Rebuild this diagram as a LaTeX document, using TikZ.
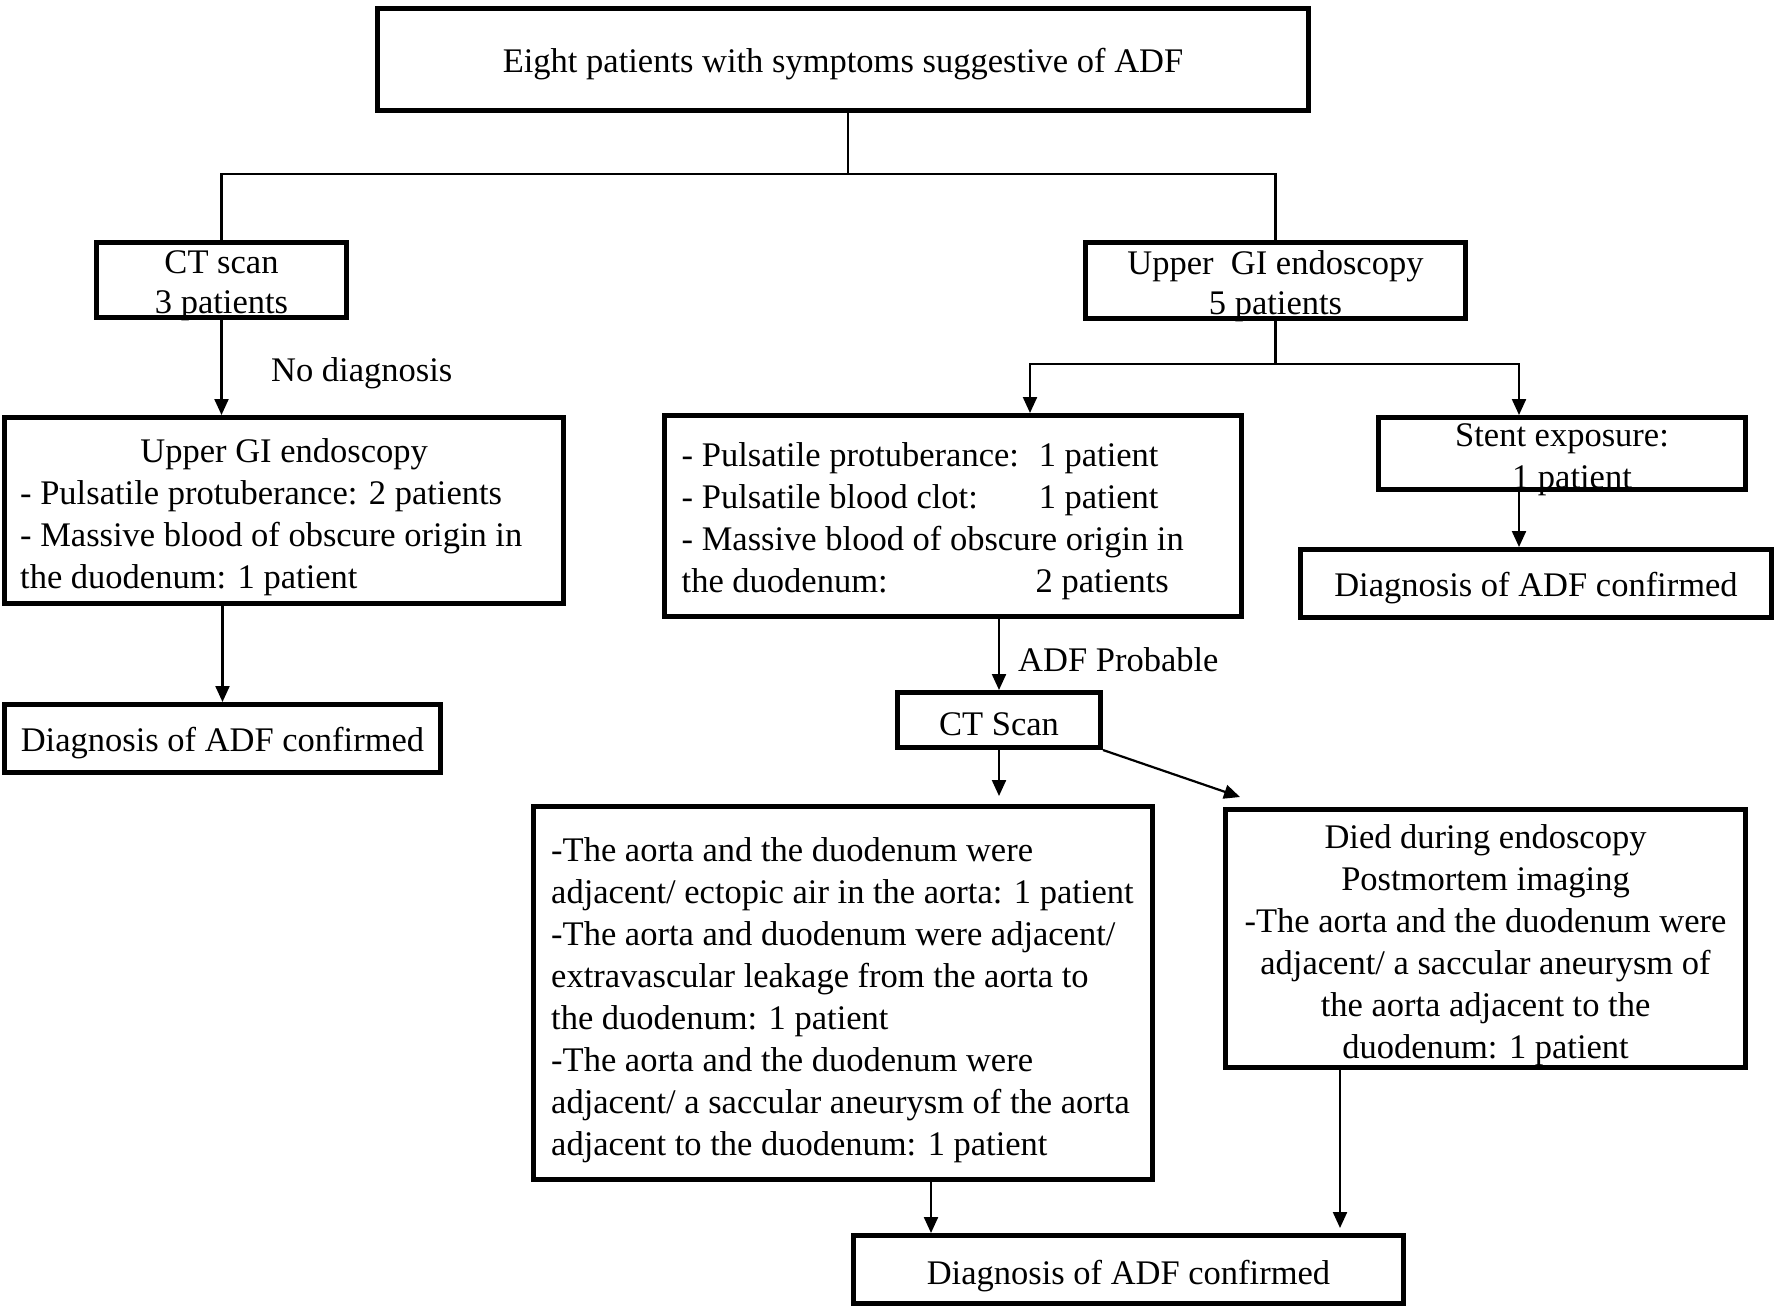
\documentclass[tikz,border=0pt]{standalone}
\usepackage{fontspec}
\setmainfont{Liberation Serif}
\usetikzlibrary{arrows.meta,calc}
\begin{document}
\begin{tikzpicture}[x=1pt,y=-1pt,
 box/.style={draw, line width=5pt, inner sep=0pt},
 txt/.style={inner sep=0pt, yshift=-4.5pt, font=\fontsize{34.5}{42}\selectfont},
 conn/.style={line width=2.2pt},
 arr/.style={conn, -{Triangle[length=16pt,width=14pt]}}]
\useasboundingbox (0,0) rectangle (1784,1310);
% boxes
\node[box, minimum width=931pt, minimum height=102pt] (top) at (843,59.5) {};
\node[box, minimum width=250pt, minimum height=75pt] (ct1) at (221.5,280) {};
\node[box, minimum width=380pt, minimum height=76pt] (ugi) at (1275.5,280.5) {};
\node[box, minimum width=559pt, minimum height=186pt] (lugi) at (284,510.5) {};
\node[box, minimum width=436pt, minimum height=68pt] (ldiag) at (222.5,738.5) {};
\node[box, minimum width=577pt, minimum height=201pt] (mid) at (953,516) {};
\node[box, minimum width=367pt, minimum height=72pt] (stent) at (1562,453.5) {};
\node[box, minimum width=471pt, minimum height=68pt] (rdiag) at (1536,583.5) {};
\node[box, minimum width=203pt, minimum height=55pt] (ct2) at (999,720) {};
\node[box, minimum width=619pt, minimum height=373pt] (big) at (843,993) {};
\node[box, minimum width=520pt, minimum height=258pt] (died) at (1485.5,938.5) {};
\node[box, minimum width=550pt, minimum height=68pt] (bdiag) at (1128.5,1269.5) {};
% texts
\node[txt] (ttop) at (top.center) {Eight patients with symptoms suggestive of ADF};
\node[txt, align=center, font=\fontsize{34.5}{40}\selectfont] (tct1) at ($(ct1.center)+(0,1)$) {CT scan\\3 patients};
\node[txt, align=center, font=\fontsize{34.5}{40}\selectfont] (tugi) at ($(ugi.center)+(0,1)$) {Upper\ \ GI endoscopy\\5 patients};
\node[txt, align=left, anchor=west] (tlugi) at (20,513) {\makebox[528pt]{Upper GI endoscopy}\\- Pulsatile protuberance: 2 patients\\- Massive blood of obscure origin in\\the duodenum: 1 patient};
\node[txt] (tldiag) at (ldiag.center) {Diagnosis of ADF confirmed};
\node[txt, align=left, anchor=west] (tmid) at (681.5,517) {\makebox[357pt][l]{- Pulsatile protuberance:}1 patient\\\makebox[357pt][l]{- Pulsatile blood clot:}1 patient\\- Massive blood of obscure origin in\\\makebox[354pt][l]{the duodenum:}2 patients};
\node[txt, align=center] (tstent) at ($(stent.center)+(0,2)$) {Stent exposure:\\\hspace*{20pt}1 patient};
\node[txt] (trdiag) at (rdiag.center) {Diagnosis of ADF confirmed};
\node[txt] (tct2) at (ct2.center) {CT Scan};
\node[txt, align=left, anchor=west] (tbig) at (551,996) {-The aorta and the duodenum were\\adjacent/ ectopic air in the aorta: 1 patient\\-The aorta and duodenum were adjacent/\\extravascular leakage from the aorta to\\the duodenum: 1 patient\\-The aorta and the duodenum were\\adjacent/ a saccular aneurysm of the aorta\\adjacent to the duodenum: 1 patient};
\node[txt, align=center] (tdied) at ($(died.center)+(0,2)$) {Died during endoscopy\\Postmortem imaging\\-The aorta and the duodenum were\\adjacent/ a saccular aneurysm of\\the aorta adjacent to the\\duodenum: 1 patient};
\node[txt] (tbdiag) at ($(bdiag.center)+(0,2.5)$) {Diagnosis of ADF confirmed};
\node[txt, anchor=west] (lnodiag) at (271,369) {No diagnosis};
\node[txt, anchor=west] (ladf) at (1018,655) {ADF Probable};
% connectors
\coordinate (split1) at (848,174);
\draw[conn] (split1 |- top.south) -- (split1);
\draw[conn] (split1) -| (ct1.north);
\draw[conn] (split1) -| (ugi.north);
\draw[arr] (ct1.south) -- (ct1.south |- lugi.north);
\draw[arr] (lugi.south -| ldiag.north) -- (ldiag.north);
\coordinate (split2) at (1275.5,364);
\draw[conn] (ugi.south) -- (split2);
\draw[arr] (split2) -| (1030,0 |- mid.north);
\draw[arr] (split2) -| (1519,0 |- stent.north);
\draw[arr] (1519,0 |- stent.south) -- (1519,0 |- rdiag.north);
\draw[arr] (ct2.north |- mid.south) -- (ct2.north);
\draw[arr] (ct2.south) -- ($(ct2.south |- big.north)+(0,-8)$);
\draw[arr] (ct2.south east) -- ($(died.north west)+(17,-10)$);
\draw[arr] (931,0 |- big.south) -- (931,0 |- bdiag.north);
\draw[arr] (1340,0 |- died.south) -- ($(1340,0 |- bdiag.north)+(0,-5)$);
\end{tikzpicture}
\end{document}
